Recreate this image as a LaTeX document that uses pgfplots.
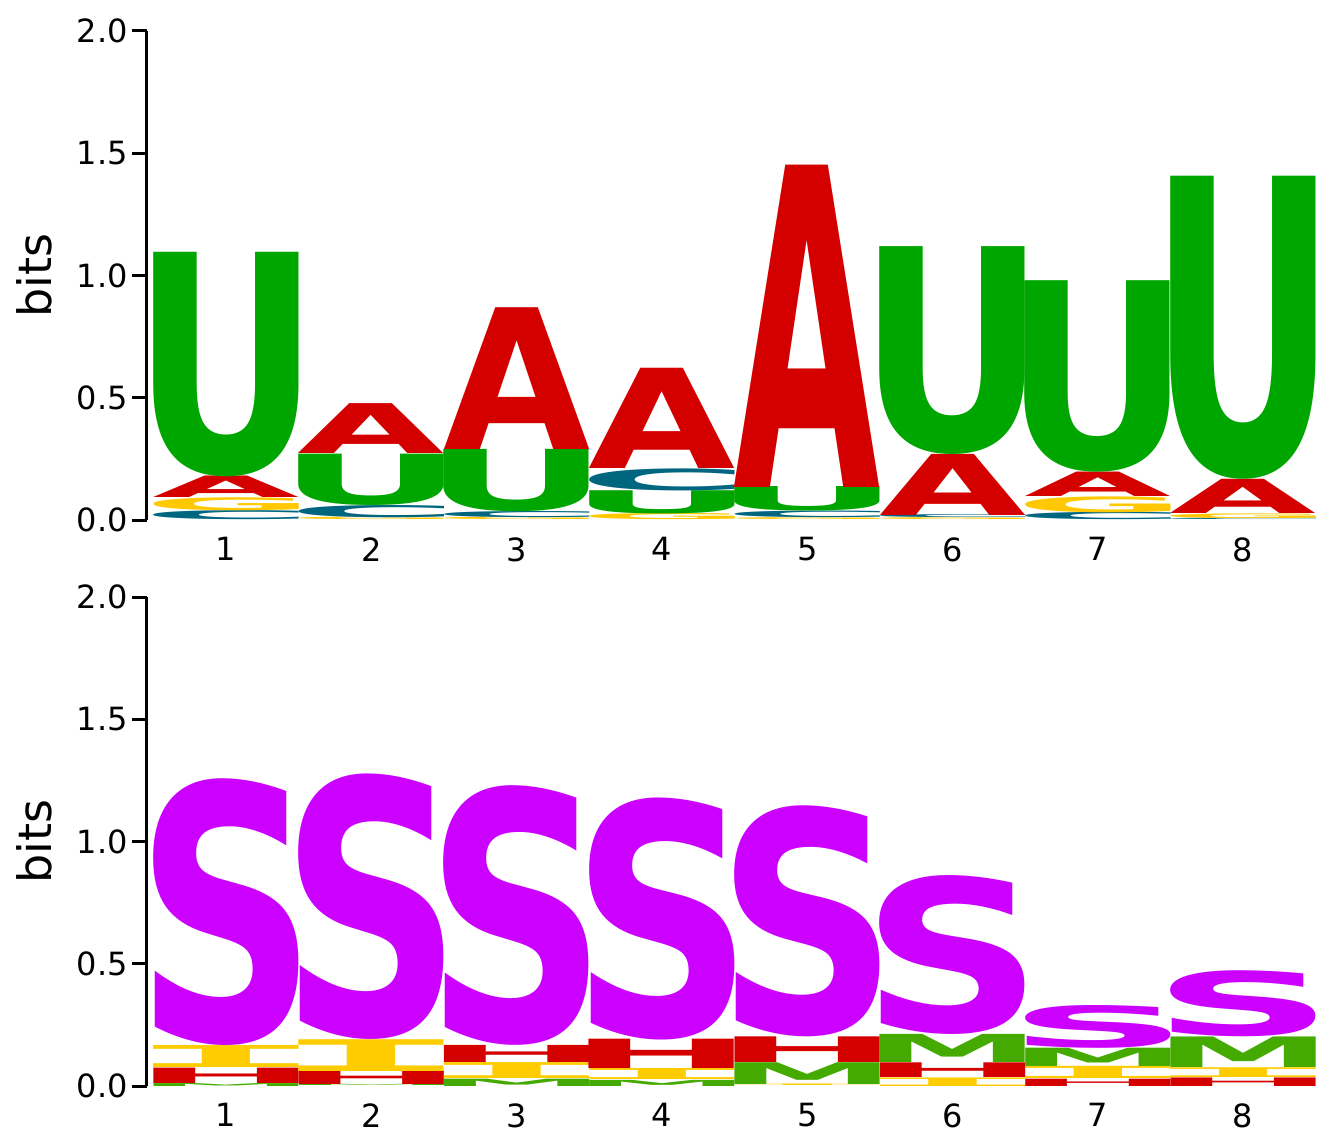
\documentclass[border=0pt]{standalone}
\usepackage{graphicx}
\usepackage{pgfplots}
\pgfplotsset{compat=1.18}
\usepackage{fontspec}
\setmainfont{DejaVu Sans}
\newfontfamily\LF{DejaVu Sans Bold}
\newfontfamily\MF{DejaVu Sans Mono Bold}

\definecolor{cU}{HTML}{00A600}
\definecolor{cA}{HTML}{D40000}
\definecolor{cC}{HTML}{006680}
\definecolor{cG}{HTML}{FFC800}
\definecolor{cS}{HTML}{CC00FF}
\definecolor{cM}{HTML}{44AA00}
\definecolor{cH}{HTML}{D40000}
\definecolor{cI}{HTML}{FFCC00}

% glyph cut to its ink box, then stretched to width x total height
\newcommand\fitglyph[4]{%
  \begingroup#1%
  \dimen0=\XeTeXglyphbounds1 \XeTeXcharglyph`#2\relax
  \dimen2=\XeTeXglyphbounds3 \XeTeXcharglyph`#2\relax
  \dimen4=\XeTeXglyphbounds2 \XeTeXcharglyph`#2\relax
  \dimen6=\XeTeXglyphbounds4 \XeTeXcharglyph`#2\relax
  \setbox0=\hbox{\kern-\dimen0 #2\kern-\dimen2}%
  \ht0=\dimen4 \dp0=\dimen6
  \resizebox*{#3}{#4}{\box0}%
  \endgroup}

% position, bottom, top, font, letter, colour
\newcommand\letterat[6]{%
  \node[anchor=south, inner sep=0pt, outer sep=0pt, text=#6] at (axis cs:#1,#2)
    {\pgfmathsetlengthmacro\hh{(#3-#2)*122.25pt}\fitglyph{#4}{#5}{72.6pt}{\hh}};
}

\pgfplotsset{logo/.style={
  x=72.65pt, y=122.25pt,
  xmin=0.456, xmax=8.5, ymin=0, ymax=2,
  axis lines*=left,
  axis line style={line width=1.5pt, black},
  x axis line style={draw=none},
  ytick={0,0.5,1,1.5,2},
  xtick={1,...,8},
  tick align=outside,
  major tick length=7.5pt,
  major y tick style={line width=1.5pt, black},
  major x tick style={draw=none},
  tick label style={font=\fontsize{16}{19}\selectfont},
  /pgf/number format/assume math mode=true,
  yticklabel style={/pgf/number format/fixed, /pgf/number format/fixed zerofill,
    /pgf/number format/precision=1, inner sep=2pt},
  xticklabel style={inner sep=1pt},
  ylabel={bits},
  every axis y label/.style={at={(axis description cs:-0.0967,0.5)}, rotate=90,
    anchor=center, font=\fontsize{23}{27}\selectfont},
  clip=false,
}}

\begin{document}
\begin{tikzpicture}
\path[use as bounding box] (-73.5pt,-305pt) rectangle (596pt,260pt);

\begin{axis}[logo, at={(0,0)}, anchor=south west]
% 1
\letterat{1}{0}{0.037}{\LF}{C}{cC}
\letterat{1}{0.037}{0.09}{\LF}{G}{cG}
\letterat{1}{0.09}{0.178}{\LF}{A}{cA}
\letterat{1}{0.178}{1.096}{\LF}{U}{cU}
% 2
\letterat{2}{0}{0.01}{\LF}{G}{cG}
\letterat{2}{0.01}{0.06}{\LF}{C}{cC}
\letterat{2}{0.06}{0.27}{\LF}{U}{cU}
\letterat{2}{0.27}{0.474}{\LF}{A}{cA}
% 3
\letterat{3}{0}{0.01}{\LF}{G}{cG}
\letterat{3}{0.01}{0.035}{\LF}{C}{cC}
\letterat{3}{0.035}{0.29}{\LF}{U}{cU}
\letterat{3}{0.29}{0.87}{\LF}{A}{cA}
% 4
\letterat{4}{0}{0.025}{\LF}{G}{cG}
\letterat{4}{0.025}{0.12}{\LF}{U}{cU}
\letterat{4}{0.12}{0.21}{\LF}{C}{cC}
\letterat{4}{0.21}{0.62}{\LF}{A}{cA}
% 5
\letterat{5}{0}{0.008}{\LF}{G}{cG}
\letterat{5}{0.008}{0.035}{\LF}{C}{cC}
\letterat{5}{0.035}{0.135}{\LF}{U}{cU}
\letterat{5}{0.135}{1.452}{\LF}{A}{cA}
% 6
\letterat{6}{0}{0.008}{\LF}{G}{cG}
\letterat{6}{0.008}{0.02}{\LF}{C}{cC}
\letterat{6}{0.02}{0.27}{\LF}{A}{cA}
\letterat{6}{0.27}{1.12}{\LF}{U}{cU}
% 7
\letterat{7}{0}{0.03}{\LF}{C}{cC}
\letterat{7}{0.03}{0.095}{\LF}{G}{cG}
\letterat{7}{0.095}{0.195}{\LF}{A}{cA}
\letterat{7}{0.195}{0.978}{\LF}{U}{cU}
% 8
\letterat{8}{0}{0.006}{\LF}{C}{cC}
\letterat{8}{0.006}{0.025}{\LF}{G}{cG}
\letterat{8}{0.025}{0.165}{\LF}{A}{cA}
\letterat{8}{0.165}{1.403}{\LF}{U}{cU}
\end{axis}

\begin{axis}[logo, at={(0,-283pt)}, anchor=south west]
% 1
\letterat{1}{0}{0.012}{\LF}{M}{cM}
\letterat{1}{0.012}{0.075}{\LF}{H}{cH}
\letterat{1}{0.075}{0.165}{\MF}{I}{cI}
\letterat{1}{0.165}{1.256}{\LF}{S}{cS}
% 2
\letterat{2}{0}{0.005}{\LF}{M}{cM}
\letterat{2}{0.005}{0.06}{\LF}{H}{cH}
\letterat{2}{0.06}{0.19}{\MF}{I}{cI}
\letterat{2}{0.19}{1.276}{\LF}{S}{cS}
% 3
\letterat{3}{0}{0.03}{\LF}{M}{cM}
\letterat{3}{0.03}{0.095}{\MF}{I}{cI}
\letterat{3}{0.095}{0.165}{\LF}{H}{cH}
\letterat{3}{0.165}{1.227}{\LF}{S}{cS}
% 4
\letterat{4}{0}{0.025}{\LF}{M}{cM}
\letterat{4}{0.025}{0.07}{\MF}{I}{cI}
\letterat{4}{0.07}{0.19}{\LF}{H}{cH}
\letterat{4}{0.19}{1.18}{\LF}{S}{cS}
% 5
\letterat{5}{0}{0.006}{\MF}{I}{cI}
\letterat{5}{0.006}{0.095}{\LF}{M}{cM}
\letterat{5}{0.095}{0.2}{\LF}{H}{cH}
\letterat{5}{0.2}{1.145}{\LF}{S}{cS}
% 6
\letterat{6}{0}{0.035}{\MF}{I}{cI}
\letterat{6}{0.035}{0.095}{\LF}{H}{cH}
\letterat{6}{0.095}{0.21}{\LF}{M}{cM}
\letterat{6}{0.21}{0.86}{\LF}{S}{cS}
% 7
\letterat{7}{0}{0.03}{\LF}{H}{cH}
\letterat{7}{0.03}{0.08}{\MF}{I}{cI}
\letterat{7}{0.08}{0.155}{\LF}{M}{cM}
\letterat{7}{0.155}{0.33}{\LF}{S}{cS}
% 8
\letterat{8}{0}{0.035}{\LF}{H}{cH}
\letterat{8}{0.035}{0.075}{\MF}{I}{cI}
\letterat{8}{0.075}{0.2}{\LF}{M}{cM}
\letterat{8}{0.2}{0.47}{\LF}{S}{cS}
\end{axis}
\end{tikzpicture}
\end{document}
